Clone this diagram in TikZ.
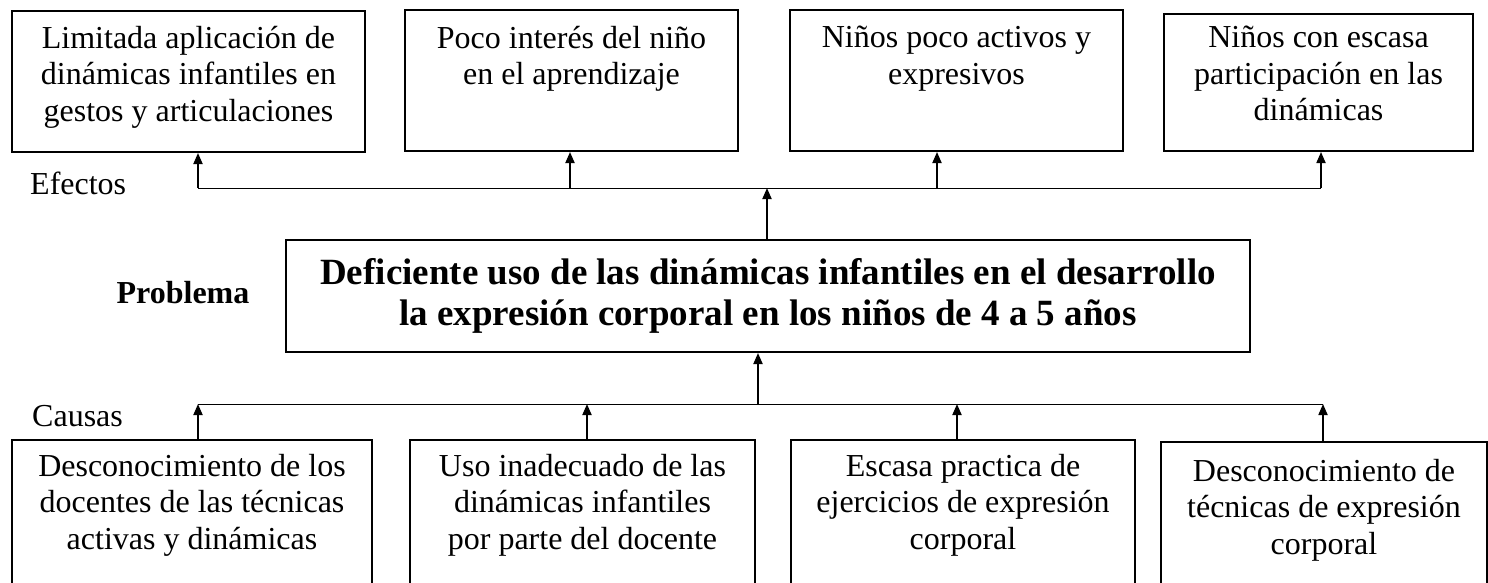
\documentclass[tikz,border=0pt]{standalone}
\usepackage{fontspec}
\setmainfont{Liberation Serif}
\usetikzlibrary{arrows.meta}
\tikzset{
  itembox/.style={draw, line width=2pt, inner sep=0pt},
  boxtext/.style={anchor=north, align=center, inner sep=0pt,
    font=\fontsize{32}{36.5}\selectfont, execute at begin node={\rule{0pt}{26pt}}},
  sidetext/.style={inner sep=0pt, font=\fontsize{32}{36}\selectfont},
  tip/.style={-{Triangle[length=11pt,width=9pt]}, line width=1.8pt},
  bus/.style={line width=1pt}
}
\begin{document}
\begin{tikzpicture}[x=1pt,y=-1pt]
    \useasboundingbox (0,0) rectangle (1488,583);
    \clip (0,0) rectangle (1488,583);
    \fill[white] (0,0) rectangle (1488,583);
    \node[itembox, minimum width=353pt, minimum height=141pt] (e1) at (188.5,81.5) {};
    \node[itembox, minimum width=333pt, minimum height=141pt] (e2) at (571.5,80.5) {};
    \node[itembox, minimum width=333pt, minimum height=141pt] (e3) at (956.5,80.5) {};
    \node[itembox, minimum width=309pt, minimum height=137pt] (e4) at (1318.5,82.5) {};
    \node[boxtext, yshift=-16pt] at (e1.north) {Limitada aplicación de\\dinámicas infantiles en\\gestos y articulaciones};
    \node[boxtext, yshift=-17pt] at (e2.north) {Poco interés del niño\\en el aprendizaje};
    \node[boxtext, yshift=-17pt] at (e3.north) {Niños poco activos y\\expresivos};
    \node[boxtext, yshift=-13pt] at (e4.north) {Niños con escasa\\participación en las\\dinámicas};
    \node[itembox, minimum width=964pt, minimum height=112pt, align=center,
      font=\bfseries\fontsize{37}{41}\selectfont] (prob) at (768,296)
      {Deficiente uso de las dinámicas infantiles en el desarrollo\\la expresión corporal en los niños de 4 a 5 años};
    \node[sidetext, anchor=base, font=\bfseries\fontsize{32}{36}\selectfont] (problab) at (183,303) {Problema};
    \node[sidetext, anchor=base west] (eflab) at (30,194) {Efectos};
    \node[sidetext, anchor=base west] (calab) at (32,426) {Causas};
    \node[itembox, minimum width=360pt, minimum height=200pt] (c1) at (192,540) {};
    \node[itembox, minimum width=345pt, minimum height=200pt] (c2) at (582.5,540) {};
    \node[itembox, minimum width=344pt, minimum height=200pt] (c3) at (963,540) {};
    \node[itembox, minimum width=326pt, minimum height=200pt] (c4) at (1324,542) {};
    \node[boxtext, yshift=-15pt] at (c1.north) {Desconocimiento de los\\docentes de las técnicas\\activas y dinámicas};
    \node[boxtext, yshift=-15pt] at (c2.north) {Uso inadecuado de las\\dinámicas infantiles\\por parte del docente};
    \node[boxtext, yshift=-15pt] at (c3.north) {Escasa practica de\\ejercicios de expresión\\corporal};
    \node[boxtext, yshift=-18pt] at (c4.north) {Desconocimiento de\\técnicas de expresión\\corporal};
    \coordinate (ea) at (198,188);
    \coordinate (eb) at (570,188);
    \coordinate (ec) at (937,188);
    \coordinate (ed) at (1321,188);
    \coordinate (ej) at (767,188);
    \coordinate (ca) at (198,404);
    \coordinate (cb) at (587,404);
    \coordinate (cc) at (957,404);
    \coordinate (cd) at (1323,404);
    \coordinate (cj) at (758,404);
    \draw[bus] (ea) -- (ed);
    \draw[bus] (ca) -- (cd);
    \foreach \p/\b in {ea/e1, eb/e2, ec/e3, ed/e4}
      \draw[tip] (\p) -- (\p |- \b.south);
    \foreach \p/\b in {ca/c1, cb/c2, cc/c3, cd/c4}
      \draw[tip] (\p |- \b.north) -- (\p);
    \draw[tip] (prob.north -| ej) -- (ej);
    \draw[tip] (cj) -- (cj |- prob.south);
\end{tikzpicture}
\end{document}
